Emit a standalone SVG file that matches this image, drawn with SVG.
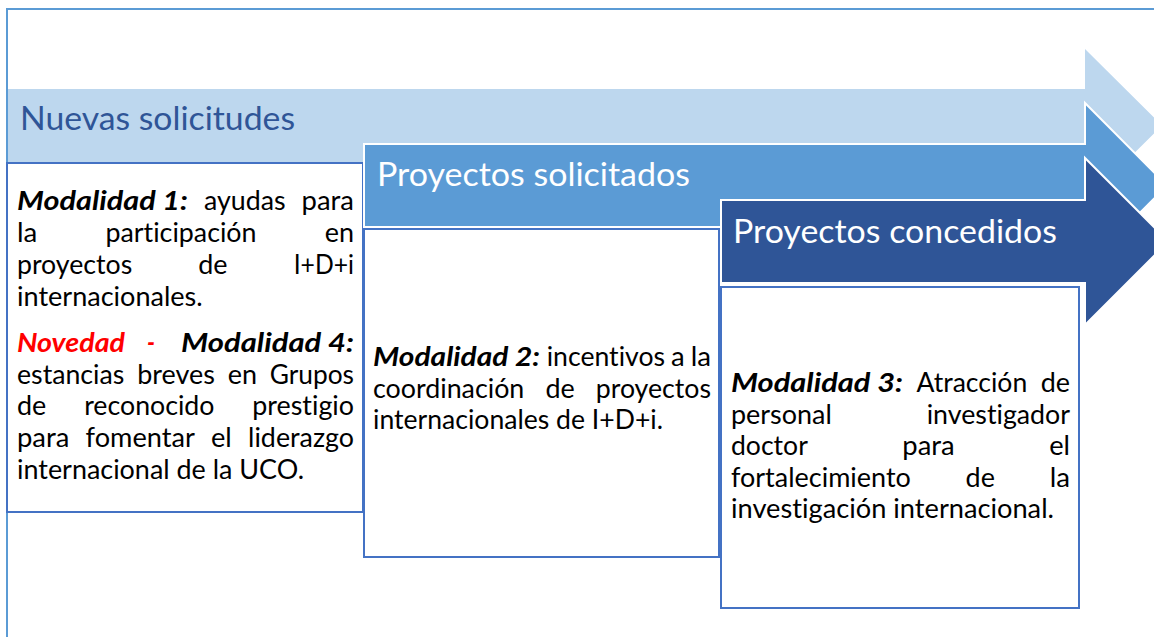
<svg xmlns="http://www.w3.org/2000/svg" width="1154" height="637" viewBox="0 0 1154 637">
<style>
.frame{fill:none;stroke:#5b9bd5;stroke-width:2}
.box{fill:#ffffff;stroke:#4472c4;stroke-width:2}
.arr{stroke:#ffffff;stroke-width:2;stroke-linejoin:miter}
.a1{fill:#bdd7ee}
.a2{fill:#5b9bd5}
.a3{fill:#2f5597}
.hd{font-family:Lato,"Liberation Sans",sans-serif;font-size:32px;font-variant-ligatures:none}
.t{font-family:Lato,"Liberation Sans",sans-serif;font-size:27px;fill:#000000;font-variant-ligatures:none}
.bi{font-weight:bold;font-style:italic}
.red{fill:#ff0000}
</style>
<g id="frame"><path class="frame" d="M7,637 V9 H1154"/></g>

<g id="nuevas-solicitudes">
<polygon class="a1" points="8,89 1085,89 1085,49 1162,125.5 1085,202 1085,162 8,162"/>
<text class="hd" x="20" y="130" fill="#2f5597" textLength="275" lengthAdjust="spacingAndGlyphs">Nuevas solicitudes</text>
</g>

<g id="box-modalidad-1-4">
<rect class="box" x="7" y="163" width="356" height="349"/>
<g class="t">
<text x="17" y="210" class="bi" textLength="171" lengthAdjust="spacingAndGlyphs">Modalidad 1:</text>
<text x="204" y="210" textLength="81.6" lengthAdjust="spacingAndGlyphs">ayudas</text>
<text x="301.6" y="210" textLength="52.4" lengthAdjust="spacingAndGlyphs">para</text>
<text x="17" y="242" textLength="20.3" lengthAdjust="spacingAndGlyphs">la</text>
<text x="105.5" y="242" textLength="151" lengthAdjust="spacingAndGlyphs">participación</text>
<text x="324.7" y="242" textLength="29.3" lengthAdjust="spacingAndGlyphs">en</text>
<text x="17" y="274" textLength="115.2" lengthAdjust="spacingAndGlyphs">proyectos</text>
<text x="198.3" y="274" textLength="29.3" lengthAdjust="spacingAndGlyphs">de</text>
<text x="293.7" y="274" textLength="60.3" lengthAdjust="spacingAndGlyphs">I+D+i</text>
<text x="17" y="306" textLength="185.7" lengthAdjust="spacingAndGlyphs">internacionales.</text>
<text x="17" y="352" class="bi red" textLength="108" lengthAdjust="spacingAndGlyphs">Novedad</text>
<text x="147" y="352" class="bi red" textLength="8" lengthAdjust="spacingAndGlyphs">-</text>
<text x="181" y="352" class="bi" textLength="173" lengthAdjust="spacingAndGlyphs">Modalidad 4:</text>
<text x="17" y="383.7" textLength="107.3" lengthAdjust="spacingAndGlyphs">estancias</text>
<text x="137.2" y="383.7" textLength="77.6" lengthAdjust="spacingAndGlyphs">breves</text>
<text x="227.7" y="383.7" textLength="29.3" lengthAdjust="spacingAndGlyphs">en</text>
<text x="269.7" y="383.7" textLength="84.3" lengthAdjust="spacingAndGlyphs">Grupos</text>
<text x="17" y="415.4" textLength="29.3" lengthAdjust="spacingAndGlyphs">de</text>
<text x="84.2" y="415.4" textLength="130.3" lengthAdjust="spacingAndGlyphs">reconocido</text>
<text x="252.3" y="415.4" textLength="101.7" lengthAdjust="spacingAndGlyphs">prestigio</text>
<text x="17" y="447.1" textLength="52.4" lengthAdjust="spacingAndGlyphs">para</text>
<text x="85.6" y="447.1" textLength="109.2" lengthAdjust="spacingAndGlyphs">fomentar</text>
<text x="211" y="447.1" textLength="20.8" lengthAdjust="spacingAndGlyphs">el</text>
<text x="248.1" y="447.1" textLength="105.9" lengthAdjust="spacingAndGlyphs">liderazgo</text>
<text x="17" y="478.8" textLength="287" lengthAdjust="spacingAndGlyphs">internacional de la UCO.</text>
</g>
</g>

<g id="proyectos-solicitados">
<polygon class="a2 arr" points="364,144 1085,144 1085,103 1167,185.5 1085,268 1085,227 364,227"/>
<text class="hd" x="377" y="186" fill="#ffffff" textLength="313" lengthAdjust="spacingAndGlyphs">Proyectos solicitados</text>
</g>

<g id="box-modalidad-2">
<rect class="box" x="364" y="229" width="355" height="328"/>
<g class="t">
<text x="373" y="366" class="bi" textLength="167" lengthAdjust="spacingAndGlyphs">Modalidad 2:</text>
<text x="546.7" y="366" textLength="118.3" lengthAdjust="spacingAndGlyphs">incentivos</text>
<text x="671" y="366" textLength="13.7" lengthAdjust="spacingAndGlyphs">a</text>
<text x="690.7" y="366" textLength="20.3" lengthAdjust="spacingAndGlyphs">la</text>
<text x="373" y="397.5" textLength="151.3" lengthAdjust="spacingAndGlyphs">coordinación</text>
<text x="545.4" y="397.5" textLength="29.3" lengthAdjust="spacingAndGlyphs">de</text>
<text x="595.8" y="397.5" textLength="115.2" lengthAdjust="spacingAndGlyphs">proyectos</text>
<text x="373" y="429" textLength="290" lengthAdjust="spacingAndGlyphs">internacionales de I+D+i.</text>
</g>
</g>

<g id="proyectos-concedidos">
<polygon class="a3 arr" points="721,200 1085,200 1085,158 1168.5,241.5 1085,325 1085,283 721,283"/>
<text class="hd" x="733" y="243" fill="#ffffff" textLength="324" lengthAdjust="spacingAndGlyphs">Proyectos concedidos</text>
</g>

<g id="box-modalidad-3">
<rect class="box" x="721" y="287" width="358" height="321"/>
<g class="t">
<text x="731" y="392" class="bi" textLength="172" lengthAdjust="spacingAndGlyphs">Modalidad 3:</text>
<text x="916.5" y="392" textLength="110.7" lengthAdjust="spacingAndGlyphs">Atracción</text>
<text x="1040.7" y="392" textLength="29.3" lengthAdjust="spacingAndGlyphs">de</text>
<text x="731" y="423.5" textLength="100.8" lengthAdjust="spacingAndGlyphs">personal</text>
<text x="926.7" y="423.5" textLength="143.3" lengthAdjust="spacingAndGlyphs">investigador</text>
<text x="731" y="455" textLength="76.8" lengthAdjust="spacingAndGlyphs">doctor</text>
<text x="902.3" y="455" textLength="52.4" lengthAdjust="spacingAndGlyphs">para</text>
<text x="1049.2" y="455" textLength="20.8" lengthAdjust="spacingAndGlyphs">el</text>
<text x="731" y="486.5" textLength="179.8" lengthAdjust="spacingAndGlyphs">fortalecimiento</text>
<text x="965.6" y="486.5" textLength="29.3" lengthAdjust="spacingAndGlyphs">de</text>
<text x="1049.7" y="486.5" textLength="20.3" lengthAdjust="spacingAndGlyphs">la</text>
<text x="731" y="518" textLength="323" lengthAdjust="spacingAndGlyphs">investigación internacional.</text>
</g>
</g>
</svg>
